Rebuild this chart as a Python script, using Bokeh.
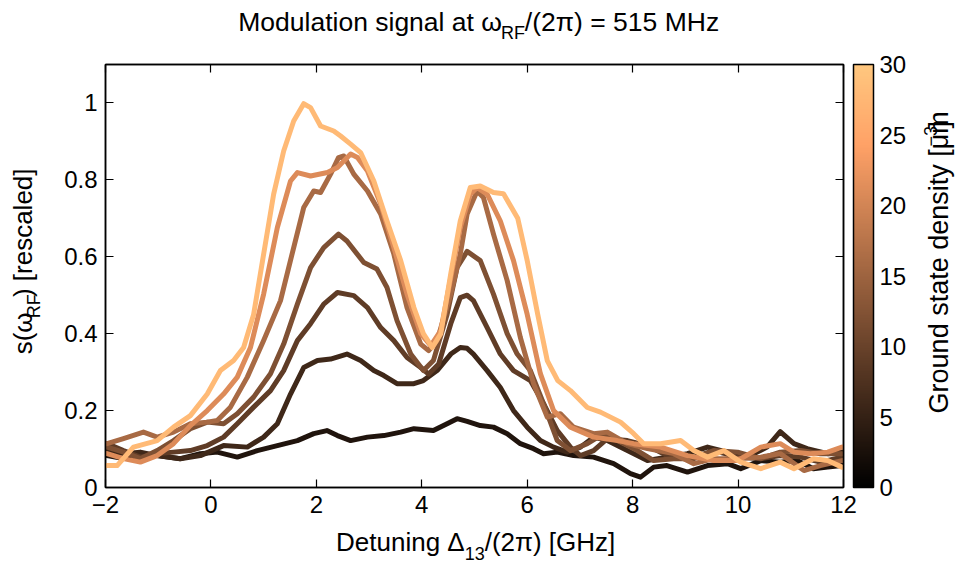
from math import pi
from bokeh.plotting import figure
from bokeh.layouts import column, row
from bokeh.models import (Range1d, FixedTicker, LinearAxis, ColorBar, LinearColorMapper)
from bokeh.core.properties import value
from bokeh.embed import file_html
from bokeh.resources import INLINE

# ---------------- data ----------------
densities = [3, 6, 9, 12, 16, 21, 28]   # ground state density [um^-3]

x_d3 = [-1.97, -1.66, -1.34, -1.02, -0.58, -0.2, 0.12, 0.5, 0.88, 1.26, 1.64, 1.95, 2.2, 2.4, 2.65,
        2.97, 3.28, 3.6, 3.85, 4.22, 4.48, 4.67, 4.86, 5.11, 5.36, 5.62, 5.87, 6.12, 6.31, 6.57,
        6.88, 7.26, 7.64, 7.96, 8.15, 8.4, 8.65, 9.04, 9.42, 9.8, 10.05, 10.43, 10.8, 11.12, 11.43,
        11.7, 11.97]
y_d3 = [0.083, 0.075, 0.083, 0.083, 0.075, 0.088, 0.092, 0.079, 0.096, 0.109, 0.122, 0.14, 0.148,
        0.135, 0.122, 0.131, 0.135, 0.144, 0.153, 0.148, 0.166, 0.179, 0.172, 0.161, 0.157, 0.14,
        0.114, 0.101, 0.088, 0.092, 0.083, 0.079, 0.062, 0.036, 0.027, 0.053, 0.057, 0.04, 0.057,
        0.062, 0.049, 0.07, 0.066, 0.07, 0.049, 0.053, 0.057]

x_d6 = [-1.97, -1.66, -1.34, -1.02, -0.58, -0.2, 0.24, 0.69, 1.0, 1.26, 1.51, 1.76, 2.02, 2.27, 2.58,
        2.84, 3.09, 3.28, 3.53, 3.85, 4.03, 4.29, 4.55, 4.73, 4.86, 4.98, 5.24, 5.49, 5.74, 6.0,
        6.25, 6.5, 6.76, 7.01, 7.26, 7.52, 7.9, 8.28, 8.65, 9.04, 9.42, 9.8, 10.17, 10.55, 10.8,
        11.06, 11.31, 11.7, 11.97]
y_d6 = [0.096, 0.088, 0.092, 0.083, 0.075, 0.083, 0.109, 0.105, 0.131, 0.166, 0.243, 0.312, 0.33,
        0.334, 0.347, 0.33, 0.304, 0.291, 0.27, 0.27, 0.278, 0.304, 0.347, 0.364, 0.362, 0.347,
        0.304, 0.26, 0.2, 0.157, 0.122, 0.105, 0.092, 0.105, 0.131, 0.122, 0.096, 0.07, 0.079,
        0.088, 0.105, 0.092, 0.079, 0.105, 0.145, 0.114, 0.101, 0.088, 0.092]

x_d9 = [-1.97, -1.66, -1.34, -1.02, -0.71, -0.39, -0.07, 0.24, 0.5, 0.81, 1.13, 1.38, 1.64, 1.89, 2.14,
        2.4, 2.71, 2.97, 3.22, 3.47, 3.72, 3.98, 4.13, 4.32, 4.55, 4.73, 4.86, 4.98, 5.24, 5.49,
        5.74, 6.06, 6.31, 6.57, 6.82, 7.01, 7.26, 7.52, 7.9, 8.28, 8.65, 9.16, 9.54, 9.99, 10.43,
        10.8, 11.19, 11.56, 11.97]
y_d9 = [0.114, 0.096, 0.079, 0.088, 0.092, 0.096, 0.109, 0.131, 0.166, 0.209, 0.252, 0.304, 0.382,
        0.426, 0.477, 0.507, 0.499, 0.468, 0.416, 0.382, 0.338, 0.312, 0.295, 0.321, 0.426, 0.494,
        0.5, 0.486, 0.416, 0.347, 0.304, 0.278, 0.218, 0.148, 0.105, 0.083, 0.096, 0.127, 0.122,
        0.109, 0.083, 0.079, 0.096, 0.079, 0.075, 0.083, 0.079, 0.066, 0.079]

x_d12 = [-1.97, -1.66, -1.34, -1.02, -0.71, -0.39, -0.07, 0.24, 0.5, 0.81, 1.13, 1.38, 1.64, 1.89, 2.14,
         2.42, 2.58, 2.9, 3.15, 3.34, 3.53, 3.79, 4.03, 4.22, 4.48, 4.67, 4.86, 5.11, 5.36, 5.62,
         5.81, 6.06, 6.31, 6.57, 6.82, 7.14, 7.45, 7.71, 8.09, 8.4, 8.78, 9.16, 9.54, 9.99, 10.43,
         10.8, 11.19, 11.56, 11.97]
y_d12 = [0.105, 0.092, 0.075, 0.096, 0.122, 0.153, 0.17, 0.166, 0.192, 0.235, 0.296, 0.373, 0.477,
         0.572, 0.624, 0.659, 0.641, 0.585, 0.568, 0.52, 0.434, 0.347, 0.304, 0.33, 0.45, 0.572,
         0.614, 0.59, 0.503, 0.40, 0.347, 0.304, 0.218, 0.122, 0.096, 0.114, 0.14, 0.122, 0.096,
         0.07, 0.075, 0.075, 0.096, 0.092, 0.075, 0.092, 0.096, 0.088, 0.088]

x_d16 = [-1.97, -1.66, -1.28, -1.02, -0.71, -0.39, -0.07, 0.12, 0.37, 0.69, 1.0, 1.32, 1.57, 1.76, 1.95,
         2.08, 2.27, 2.42, 2.52, 2.71, 2.97, 3.22, 3.47, 3.72, 3.98, 4.13, 4.29, 4.55, 4.73, 4.86,
         5.05, 5.17, 5.36, 5.62, 5.87, 6.12, 6.38, 6.63, 6.88, 7.26, 7.52, 7.9, 8.28, 8.78, 9.16,
         9.54, 9.99, 10.43, 10.8, 11.25, 11.56, 11.97]
y_d16 = [0.114, 0.127, 0.144, 0.131, 0.144, 0.166, 0.17, 0.174, 0.209, 0.287, 0.382, 0.486, 0.624,
         0.728, 0.771, 0.767, 0.815, 0.858, 0.862, 0.815, 0.771, 0.711, 0.607, 0.468, 0.373, 0.356,
         0.382, 0.503, 0.607, 0.711, 0.771, 0.754, 0.659, 0.538, 0.39, 0.27, 0.183, 0.192, 0.157,
         0.14, 0.144, 0.114, 0.101, 0.088, 0.062, 0.075, 0.075, 0.079, 0.088, 0.044, 0.057, 0.07]

x_d21 = [-1.97, -1.66, -1.34, -1.02, -0.71, -0.39, -0.07, 0.24, 0.5, 0.75, 1.0, 1.26, 1.51, 1.64, 1.89,
         2.21, 2.4, 2.65, 2.78, 2.97, 3.22, 3.47, 3.72, 3.98, 4.17, 4.36, 4.55, 4.73, 4.92, 5.05,
         5.24, 5.49, 5.74, 6.0, 6.25, 6.5, 6.82, 7.26, 7.71, 8.02, 8.53, 9.04, 9.54, 9.99, 10.43,
         10.8, 11.06, 11.37, 11.7, 11.97]
y_d21 = [0.088, 0.075, 0.066, 0.083, 0.114, 0.161, 0.2, 0.243, 0.287, 0.364, 0.503, 0.676, 0.797,
         0.819, 0.81, 0.819, 0.832, 0.867, 0.858, 0.823, 0.737, 0.624, 0.503, 0.40, 0.369, 0.408,
         0.546, 0.676, 0.763, 0.78, 0.763, 0.693, 0.59, 0.45, 0.296, 0.2, 0.157, 0.131, 0.122,
         0.114, 0.105, 0.083, 0.07, 0.07, 0.105, 0.114, 0.092, 0.088, 0.092, 0.105]

x_d28 = [-1.97, -1.78, -1.47, -1.02, -0.71, -0.39, -0.07, 0.18, 0.43, 0.62, 0.81, 1.0, 1.19, 1.38, 1.57,
         1.76, 1.89, 2.08, 2.33, 2.46, 2.65, 2.84, 3.09, 3.34, 3.6, 3.85, 4.03, 4.2, 4.36, 4.55,
         4.73, 4.92, 5.11, 5.36, 5.55, 5.82, 6.0, 6.2, 6.38, 6.58, 6.82, 7.14, 7.39, 7.77, 8.02,
         8.21, 8.53, 8.91, 9.16, 9.42, 9.73, 10.05, 10.43, 10.8, 11.06, 11.43, 11.7, 11.97]
y_d28 = [0.057, 0.057, 0.105, 0.122, 0.157, 0.187, 0.243, 0.304, 0.33, 0.364, 0.45, 0.607, 0.763,
         0.875, 0.953, 0.998, 0.988, 0.94, 0.927, 0.914, 0.893, 0.871, 0.797, 0.693, 0.59, 0.468,
         0.40, 0.364, 0.40, 0.556, 0.693, 0.78, 0.784, 0.767, 0.764, 0.70, 0.59, 0.45, 0.33, 0.278,
         0.252, 0.208, 0.196, 0.17, 0.14, 0.114, 0.114, 0.122, 0.096, 0.079, 0.096, 0.066, 0.049,
         0.066, 0.049, 0.075, 0.07, 0.053]

series_x = [x_d3, x_d6, x_d9, x_d12, x_d16, x_d21, x_d28]
series_y = [y_d3, y_d6, y_d9, y_d12, y_d16, y_d21, y_d28]

x_ticks = [-2, 0, 2, 4, 6, 8, 10, 12]
y_ticks = [0, 0.2, 0.4, 0.6, 0.8, 1.0]
y_tick_labels = ["0", "0.2", "0.4", "0.6", "0.8", "1"]
cbar_ticks = [0, 5, 10, 15, 20, 25, 30]
density_max = 30

# ---------------- style / layout ----------------
FONT = "Liberation Sans"
TICK_PX = 24
LAB_PX = 26
TITLE_PX = 26.5
CLAB_PX = 27
SUB_PX = 18
MID = 0.3465          # distance baseline -> em-box middle, in font sizes

W, H = 957, 563
TITLE_H, XLAB_H = 44, 40
YLAB_W, CLAB_W = 50, 46
MAIN_W = W - YLAB_W - CLAB_W          # 861
MAIN_H = H - TITLE_H - XLAB_H         # 479
FL, FT = 105, 64                       # frame left/top on the page
FW, FH = 738, 423                      # frame size


def copper(t):
    t = max(0.0, min(1.0, t))
    r = min(1.0, 1.2353 * t)
    g = 0.7812 * t
    b = 0.4975 * t
    return "#%02x%02x%02x" % (round(r * 255), round(g * 255), round(b * 255))


palette = [copper(i / 255) for i in range(256)]

p = figure(width=MAIN_W, height=MAIN_H, output_backend="svg", toolbar_location=None,
           x_range=Range1d(-2, 12), y_range=Range1d(0, 1.1),
           min_border_left=FL - YLAB_W, min_border_right=MAIN_W - (FL - YLAB_W) - FW,
           min_border_top=FT - TITLE_H, min_border_bottom=MAIN_H - (FT - TITLE_H) - FH,
           background_fill_color="white", border_fill_color="white")
p.grid.visible = False
p.outline_line_color = "black"
p.outline_line_width = 1.5

for ax in (p.xaxis[0], p.yaxis[0]):
    ax.major_tick_in = 8
    ax.major_tick_out = 0
    ax.minor_tick_line_color = None
    ax.axis_line_width = 1.5
    ax.major_tick_line_width = 1.2
    ax.major_label_text_font = FONT
    ax.major_label_text_font_size = f"{TICK_PX}px"
    ax.major_label_text_color = "black"
    ax.major_label_standoff = 8

p.xaxis.ticker = FixedTicker(ticks=x_ticks)
p.xaxis.major_label_overrides = {t: str(t).replace("-", "\u2212") for t in x_ticks}
p.yaxis.ticker = FixedTicker(ticks=y_ticks)
p.yaxis.major_label_overrides = {t: s for t, s in zip(y_ticks, y_tick_labels)}

top_ax = LinearAxis(ticker=FixedTicker(ticks=x_ticks), major_tick_in=8, major_tick_out=0,
                    major_label_overrides={t: "" for t in x_ticks},
                    major_label_text_font_size="1px", minor_tick_line_color=None,
                    axis_line_width=1.5, major_tick_line_width=1.2, major_label_standoff=0)
p.add_layout(top_ax, "above")
right_ax = LinearAxis(ticker=FixedTicker(ticks=y_ticks), major_tick_in=8, major_tick_out=0,
                      major_label_overrides={t: "" for t in y_ticks},
                      major_label_text_font_size="1px", minor_tick_line_color=None,
                      axis_line_width=1.5, major_tick_line_width=1.2, major_label_standoff=0)
p.add_layout(right_ax, "right")

# curves, darkest first
for xs, ys, d in zip(series_x, series_y, densities):
    p.line(xs, ys, line_color=copper(d / density_max), line_width=5,
           line_join="round", line_cap="round")

# colour bar (just right of the frame)
mapper = LinearColorMapper(palette=palette, low=0, high=density_max)
cb = ColorBar(color_mapper=mapper, ticker=FixedTicker(ticks=cbar_ticks),
              location=(FW + 10, 0), orientation="vertical", width=20, height=FH,
              padding=0, margin=0, label_standoff=6,
              major_label_text_font=FONT, major_label_text_font_size=f"{TICK_PX}px",
              major_label_text_color="black", major_tick_line_color=None,
              bar_line_color="black", bar_line_width=1.5,
              border_line_color=None, background_fill_alpha=0)
p.add_layout(cb, "center")


# ---------------- text panels (title, axis labels, colour bar label) ----------------
def text_fig(w, h):
    f = figure(width=w, height=h, x_range=Range1d(0, w), y_range=Range1d(h, 0),
               output_backend="svg", toolbar_location=None, min_border=0,
               x_axis_type=None, y_axis_type=None, outline_line_color=None,
               background_fill_color="white", border_fill_color="white")
    f.grid.visible = False
    return f


WID = {' ': 278, '(': 333, ')': 333, '/': 278, '[': 278, ']': 278, '=': 584, 'M': 833, 'H': 722,
       'z': 500, 'o': 556, 'd': 556, 'u': 556, 'l': 222, 'a': 556, 't': 278, 'i': 222, 'n': 556,
       's': 500, 'g': 556, 'R': 722, 'F': 611, 'D': 722, 'e': 556, 'G': 778, 'r': 333, 'c': 500,
       'y': 500, 'm': 833, '\u03c9': 740, '\u03c0': 600, '\u0394': 668, '\u03bc': 576,
       '\u2212': 584}


def tw(s, size):
    return sum(WID.get(c, 556) for c in s) * size / 1000.0


def put(f, text, x, y, size, angle=0.0):
    f.text(x=[x], y=[y], text=[text], text_font=value(FONT), text_font_size=value(f"{size}px"),
           text_color="black", text_align="left", text_baseline="middle", angle=angle)


def hline(f, pieces, x, base):
    # pieces: (text, size, baseline shift down); base = baseline y (downward axis)
    for text, size, dy in pieces:
        put(f, text, x, base + dy - MID * size, size)
        x += tw(text, size)


def vline(f, pieces, base, y):
    # rotated 90 deg CCW (reads bottom to top); base = baseline x; shift >0 -> right (down in text)
    for text, size, dx in pieces:
        put(f, text, base + dx - MID * size, y, size, angle=pi / 2)
        y -= tw(text, size)


def total(pieces):
    return sum(tw(t, s) for t, s, _ in pieces)


title_f = text_fig(W, TITLE_H)
title = [("Modulation signal at \u03c9", TITLE_PX, 0), ("RF", SUB_PX, 8),
         ("/(2\u03c0) = 515 MHz", TITLE_PX, 0)]
hline(title_f, title, 477 - total(title) / 2, 31)

xlab_f = text_fig(W, XLAB_H)
xlab = [("Detuning \u0394", LAB_PX, 0), ("13", SUB_PX, 8), ("/(2\u03c0) [GHz]", LAB_PX, 0)]
hline(xlab_f, xlab, 474 - total(xlab) / 2, 551 - (TITLE_H + MAIN_H))

ylab_f = text_fig(YLAB_W, MAIN_H)
ylab = [("s(\u03c9", LAB_PX, 0), ("RF", SUB_PX, 8), (") [rescaled]", LAB_PX, 0)]
vline(ylab_f, ylab, 32, (275.5 - TITLE_H) + total(ylab) / 2)

clab_f = text_fig(CLAB_W, MAIN_H)
clab = [("Ground state density [\u03bcm", CLAB_PX, 0), ("\u22123", SUB_PX, -12),
        ("]", CLAB_PX, 0)]
vline(clab_f, clab, 948 - (YLAB_W + MAIN_W), (274 - TITLE_H) + total(clab) / 2)

layout = column(title_f, row(ylab_f, p, clab_f, spacing=0), xlab_f, spacing=0)

open("out.html", "w").write(file_html(layout, INLINE))
